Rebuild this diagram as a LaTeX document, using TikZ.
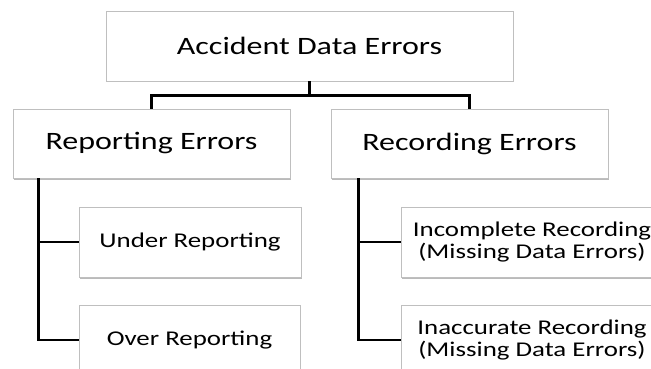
\documentclass[tikz,border=0pt]{standalone}
\usepackage{fontspec}
\setmainfont{Carlito}[FakeStretch=1.28]
\usetikzlibrary{shadows}

\begin{document}
\begin{tikzpicture}[x=1pt, y=-1pt]
        \tikzstyle{box}=[draw=black!25, line width=0.8pt, fill=white, shape=rectangle, align=center,
                drop shadow={shadow xshift=1.2pt, shadow yshift=-1.5pt, fill=black!45, opacity=0.6}]
        \tikzstyle{big}=[box, font=\fontsize{25}{27}\selectfont]
        \tikzstyle{small}=[box, font=\fontsize{21}{22.5}\selectfont, minimum height=70pt]
        \tikzstyle{conn}=[line width=2.4pt]

        \useasboundingbox (0,0) rectangle (651,369);
        \clip (0,0) rectangle (651,369);

        \node[big, minimum width=407pt, minimum height=70pt](top) at (309.5,46){Accident Data Errors};
        \node[big, minimum width=277pt, minimum height=69pt](rep) at (151.5,143.5){Reporting Errors};
        \node[big, minimum width=277pt, minimum height=69pt](rec) at (469.5,143.5){Recording Errors};
        \node[small, minimum width=222pt](under) at (190,242){Under Reporting};
        \node[small, minimum width=221pt](over) at (189.5,340){Over Reporting};
        \node[small, minimum width=262pt](incomp) at (532,242){Incomplete Recording\\(Missing Data Errors)};
        \node[small, minimum width=262pt](inacc) at (532,340){Inaccurate Recording\\(Missing Data Errors)};

        \draw[conn] (top.south) -- ++(0,14) -| (rep.north);
        \draw[conn] (top.south) ++(0,14) -| (rec.north);

        \draw[conn] ([xshift=26pt]rep.south west) |- (under.west);
        \draw[conn] ([xshift=26pt]rep.south west) |- (over.west);
        \draw[conn] ([xshift=28pt]rec.south west) |- (incomp.west);
        \draw[conn] ([xshift=28pt]rec.south west) |- (inacc.west);

        \end{tikzpicture}
\end{document}
